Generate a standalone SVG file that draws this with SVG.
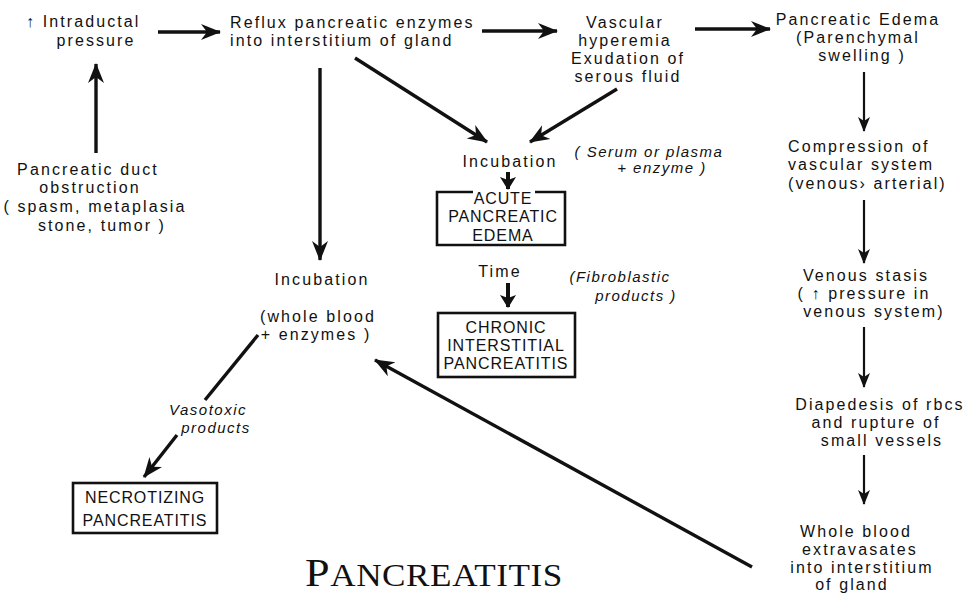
<svg xmlns="http://www.w3.org/2000/svg" width="969" height="595" viewBox="0 0 969 595">
<style>
text{font-family:"Liberation Sans",Arial,sans-serif;font-size:16px;fill:#111;letter-spacing:2.1px}
.m{text-anchor:middle}
.it{font-style:italic;font-size:15px;letter-spacing:1.5px}
.cap{font-size:16px;letter-spacing:0.9px;text-anchor:middle}
.box{fill:none;stroke:#111;stroke-width:2.6}
.c{stroke:#111;fill:none;stroke-linecap:butt}
.t3{stroke-width:3.4}
.t2{stroke-width:2.2}
</style>
<defs>
<marker id="ah" markerUnits="userSpaceOnUse" markerWidth="22" markerHeight="18" refX="19" refY="9" orient="auto">
<path d="M0,1 L20,9 L0,17 L6,9 z" fill="#111"/>
</marker>
<marker id="ahs" markerUnits="userSpaceOnUse" markerWidth="16" markerHeight="14" refX="14" refY="7" orient="auto">
<path d="M0,1 L15,7 L0,13 L4,7 z" fill="#111"/>
</marker>
<marker id="ahb" markerUnits="userSpaceOnUse" markerWidth="16" markerHeight="16" refX="12" refY="8" orient="auto">
<path d="M0,0 L13,8 L0,16 L3,8 z" fill="#111"/>
</marker>
</defs>
<rect width="969" height="595" fill="#fff"/>

<g id="connectors">
<line class="c t3" x1="158" y1="32" x2="220" y2="32" marker-end="url(#ah)"/>
<line class="c t3" x1="482" y1="31" x2="557" y2="31" marker-end="url(#ah)"/>
<line class="c t3" x1="695" y1="29" x2="770" y2="29" marker-end="url(#ah)"/>
<line class="c t3" x1="96" y1="153" x2="96" y2="64" marker-end="url(#ah)"/>
<line class="c t3" x1="320" y1="68" x2="320" y2="260" marker-end="url(#ah)"/>
<line class="c t3" x1="355" y1="58" x2="487" y2="142" marker-end="url(#ah)"/>
<line class="c t3" x1="617" y1="89" x2="530" y2="142" marker-end="url(#ah)"/>
<line class="c" style="stroke-width:4" x1="508" y1="172" x2="508" y2="189" marker-end="url(#ahb)"/>
<line class="c" style="stroke-width:4" x1="508" y1="283" x2="508" y2="307" marker-end="url(#ahb)"/>
<line class="c t2" x1="864" y1="72" x2="864" y2="131" marker-end="url(#ahs)"/>
<line class="c t2" x1="864" y1="200" x2="864" y2="263" marker-end="url(#ahs)"/>
<line class="c t2" x1="864" y1="327" x2="864" y2="387" marker-end="url(#ahs)"/>
<line class="c t2" x1="864" y1="455" x2="864" y2="504" marker-end="url(#ahs)"/>
<line class="c t3" x1="752" y1="567" x2="375" y2="360" marker-end="url(#ah)"/>
<line class="c t3" x1="258" y1="335" x2="205" y2="400"/>
<line class="c t3" x1="177" y1="435" x2="144" y2="477" marker-end="url(#ah)"/>
</g>

<g id="intraductal">
<text x="26" y="27">↑ Intraductal</text>
<text x="96" y="46" class="m">pressure</text>
</g>

<g id="obstruction">
<text x="88" y="175" class="m">Pancreatic duct</text>
<text x="90" y="193" class="m">obstruction</text>
<text x="95" y="212" class="m">( spasm, metaplasia</text>
<text x="102" y="231" class="m">stone, tumor )</text>
</g>

<g id="reflux">
<text x="230" y="28">Reflux pancreatic enzymes</text>
<text x="230" y="46">into interstitium of gland</text>
</g>

<g id="vascular">
<text x="625" y="28" class="m">Vascular</text>
<text x="625" y="46" class="m">hyperemia</text>
<text x="628" y="64" class="m">Exudation of</text>
<text x="628" y="82" class="m">serous fluid</text>
</g>

<g id="edema">
<text x="858" y="25" class="m">Pancreatic Edema</text>
<text x="858" y="43" class="m">(Parenchymal</text>
<text x="862" y="61" class="m">swelling )</text>
</g>

<g id="compression">
<text x="788" y="152">Compression of</text>
<text x="788" y="170">vascular system</text>
<text x="788" y="189">(venous› arterial)</text>
</g>

<g id="stasis">
<text x="866" y="281" class="m">Venous stasis</text>
<text x="864" y="299" class="m">( ↑ pressure in</text>
<text x="874" y="317" class="m">venous system)</text>
</g>

<g id="diapedesis">
<text x="880" y="410" class="m">Diapedesis of rbcs</text>
<text x="876" y="428" class="m">and rupture of</text>
<text x="882" y="446" class="m">small vessels</text>
</g>

<g id="wholeblood">
<text x="856" y="537" class="m">Whole blood</text>
<text x="860" y="555" class="m">extravasates</text>
<text x="862" y="573" class="m">into interstitium</text>
<text x="852" y="590" class="m">of gland</text>
</g>

<g id="incubation-left">
<text x="322" y="285" class="m">Incubation</text>
<text x="318" y="322" class="m">(whole blood</text>
<text x="316" y="340" class="m">+ enzymes )</text>
</g>

<g id="vasotoxic">
<text x="208" y="415" class="m it">Vasotoxic</text>
<text x="216" y="433" class="m it">products</text>
</g>

<g id="necrotizing">
<rect class="box" x="73" y="483" width="144" height="50"/>
<text x="145" y="503" class="cap">NECROTIZING</text>
<text x="145" y="526" class="cap">PANCREATITIS</text>
</g>

<g id="incubation-center">
<text x="510" y="167" class="m">Incubation</text>
</g>

<g id="serum">
<text x="649" y="157" class="m it">( Serum or plasma</text>
<text x="662" y="173" class="m it">+ enzyme )</text>
</g>

<g id="acute">
<path class="box" d="M473,192 H437 V245 H565 V192 H535"/>
<text x="503" y="204" class="cap">ACUTE</text>
<text x="503" y="222" class="cap">PANCREATIC</text>
<text x="503" y="241" class="cap">EDEMA</text>
</g>

<g id="time">
<text x="500" y="277" class="m">Time</text>
</g>

<g id="fibroblastic">
<text x="620" y="282" class="m it">(Fibroblastic</text>
<text x="636" y="301" class="m it">products )</text>
</g>

<g id="chronic">
<rect class="box" x="438" y="313" width="137" height="64"/>
<text x="506" y="333" class="cap">CHRONIC</text>
<text x="506" y="351" class="cap">INTERSTITIAL</text>
<text x="506" y="369" class="cap">PANCREATITIS</text>
</g>

<g id="title">
<text x="305" y="586" style="font-family:'Liberation Serif','Times New Roman',serif;letter-spacing:0.5px" textLength="258" lengthAdjust="spacingAndGlyphs"><tspan style="font-size:39px">P</tspan><tspan style="font-size:31px">ANCREATITIS</tspan></text>
</g>
</svg>
